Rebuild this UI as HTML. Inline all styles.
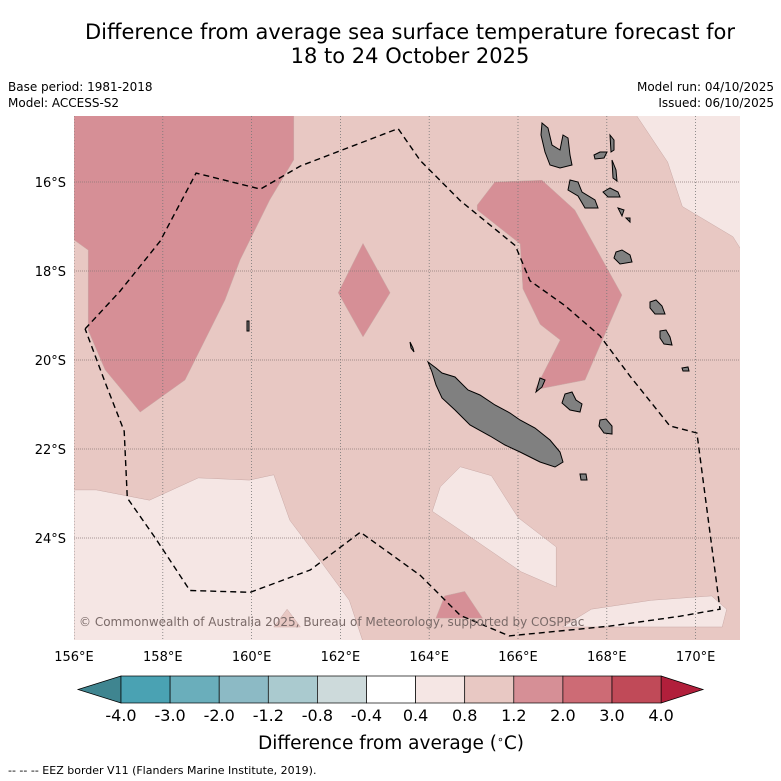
<!DOCTYPE html>
<html><head><meta charset="utf-8"><style>
body{margin:0;background:#fff;width:781px;height:781px;overflow:hidden;font-family:"Liberation Sans","DejaVu Sans",sans-serif}
svg{position:absolute;left:0;top:0}
</style></head><body>
<svg id="s" width="781" height="781" viewBox="0 0 781 781">
<text x="410" y="39" font-size="21" text-anchor="middle" font-family="DejaVu Sans">Difference from average sea surface temperature forecast for</text>
<text x="410" y="63" font-size="21" text-anchor="middle" font-family="DejaVu Sans">18 to 24 October 2025</text>
<text x="8" y="91" font-size="12" font-family="DejaVu Sans">Base period: 1981-2018</text>
<text x="8" y="107" font-size="12" font-family="DejaVu Sans">Model: ACCESS-S2</text>
<text x="774" y="91" font-size="12" text-anchor="end" font-family="DejaVu Sans">Model run: 04/10/2025</text>
<text x="774" y="107" font-size="12" text-anchor="end" font-family="DejaVu Sans">Issued: 06/10/2025</text>
<defs><clipPath id="mc"><rect x="74" y="116" width="666" height="524"/></clipPath></defs>
<g id="map" clip-path="url(#mc)">
<rect x="74" y="116" width="666" height="524" fill="#e8c8c3"/>
<g id="regions"></g>
<g id="grid"></g>
<g fill="#808080" stroke="#000" stroke-width="1">
<path d="M428,362 L436,368 L442,373 L455,377 L468,390 L480,395 L495,405 L510,413 L520,420 L535,428 L550,440 L560,452 L563,462 L555,467 L540,462 L520,452 L505,445 L490,436 L470,425 L455,410 L442,398 L436,385 L432,372 Z"/>
<path d="M542,123 L548,128 L552,145 L560,150 L563,135 L568,138 L570,155 L572,165 L560,168 L550,165 L545,152 L541,135 Z"/>
<path d="M570,180 L578,182 L582,192 L595,200 L598,208 L585,208 L578,196 L568,190 Z"/>
<path d="M594,155 L600,152 L607,152 L604,158 L595,159 Z"/>
<path d="M610,135 L614,140 L614,150 L611,152 Z M612,160 L616,170 L617,181 L613,178 Z"/>
<path d="M603,192 L610,188 L618,192 L620,197 L608,197 Z"/>
<path d="M616,252 L622,250 L630,255 L632,262 L620,264 L614,258 Z"/>
<path d="M650,302 L656,300 L662,306 L665,314 L655,314 L650,308 Z"/>
<path d="M660,331 L666,330 L670,337 L672,345 L664,344 L660,338 Z"/>
<path d="M682,368 L688,367 L689,371 L683,371 Z"/>
<path d="M565,394 L572,392 L576,400 L582,404 L580,412 L570,410 L562,403 Z"/>
<path d="M600,420 L606,419 L612,426 L612,434 L604,433 L599,426 Z"/>
<path d="M540,378 L545,380 L542,387 L536,392 L538,385 Z"/>
<path d="M580,474 L586,474 L587,480 L581,480 Z"/>
<path d="M247,321 L249,321 L249,331 L247,331 Z M410,342 L413,348 L414,352 L411,348 Z M618,208 L624,210 L622,216 Z M626,218 L630,218 L630,222 Z"/>
</g>
<path id="eez" fill="none" stroke="#000" stroke-width="1.4" stroke-dasharray="6,4"/>
<text x="79" y="626" font-size="12" fill="#7a6a68" font-family="DejaVu Sans">© Commonwealth of Australia 2025, Bureau of Meteorology, supported by COSPPac</text>
</g>
<g id="axes"></g>
<g id="cbar"></g>
<text x="391" y="749" font-size="18.5" text-anchor="middle" font-family="DejaVu Sans">Difference from average (<tspan baseline-shift="super" font-size="11">∘</tspan>C)</text>
<text x="8" y="774" font-size="11" font-family="DejaVu Sans">--  --  -- EEZ border V11 (Flanders Marine Institute, 2019).</text>
</svg>
<script>
// data
const lonTicks=[156,158,160,162,164,166,168,170];
const latTicks=[16,18,20,22,24];
const cbLevels=[-4.0,-3.0,-2.0,-1.2,-0.8,-0.4,0.4,0.8,1.2,2.0,3.0,4.0];
const cbColors=["#4aa2b3","#6aaebb","#8cbac5","#aacacf","#cddadb","#ffffff","#f5e6e4","#e8c8c3","#d68f96","#cd6b75","#c04a58"];
const regionWarm1=[[156,14.5],[160.95,14.5],[160.95,15.5],[160.41,16.4],[159.74,17.75],[159.4,18.65],[158.5,20.45],[157.49,21.17],[156.7,20.22],[156.32,19.33],[156.32,17.53],[156,17.3]];
const regionWarm2=[[162.51,17.38],[163.12,18.49],[162.51,19.48],[161.95,18.49]];
const regionWarm3=[[165.08,16.52],[165.48,16.0],[166.54,15.96],[167.28,16.63],[168.34,18.54],[167.51,20.45],[166.38,20.67],[166.95,19.55],[166.5,19.2],[166.11,18.4],[166.05,17.39],[165.08,16.63]];
const regionWarm4=[[164.15,25.8],[164.35,25.3],[164.8,25.2],[165.2,25.8]];
const regionMild1=[[156,22.92],[156.5,22.92],[157.7,23.15],[158.8,22.65],[159.95,22.7],[160.5,22.58],[160.86,23.6],[161.54,24.5],[162.2,25.4],[162.5,26.3],[156,26.3]];
const regionMild2=[[164.7,22.4],[165.4,22.6],[166.0,23.54],[166.86,24.2],[166.86,25.1],[166.07,24.76],[164.93,23.98],[164.07,23.4],[164.25,22.85]];
const regionMild3=[[168.6,14.4],[171.2,14.4],[171.2,17.8],[170.84,17.23],[169.7,16.55],[169.37,15.55]];
const regionMild4=[[167.0,26.0],[167.65,25.6],[169.0,25.4],[170.36,25.3],[170.7,25.6],[170.6,26.0]];
const regionMid1=[[160.5,26.0],[160.8,25.6],[161.1,26.0]];
const eezLine=[[156.25,19.3],[157.04,18.45],[157.94,17.33],[158.75,15.8],[160.2,16.16],[161.1,15.64],[163.3,14.8],[163.8,15.52],[164.7,16.42],[165.94,17.43],[166.27,18.22],[167.06,18.78],[167.85,19.46],[168.52,20.36],[169.42,21.48],[170.03,21.64],[170.55,25.6],[169.64,25.76],[168.07,25.98],[165.8,26.2],[164.7,25.74],[163.8,24.84],[162.45,23.87],[161.32,24.72],[159.97,25.22],[158.61,25.18],[157.83,24.0],[157.2,23.1],[157.13,21.6],[156.7,20.5],[156.25,19.3]];
const X=lon=>74+(lon-156)*44.4;
const Y=lat=>182+(lat-16)*44.5;
const NS="http://www.w3.org/2000/svg";
function mk(t,p,a){const e=document.createElementNS(NS,t);for(const k in a)e.setAttribute(k,a[k]);p.appendChild(e);return e;}
const pts=a=>a.map(p=>X(p[0]).toFixed(1)+","+Y(p[1]).toFixed(1)).join(" ");
const reg=document.getElementById("regions");
[[regionWarm1,"#d68f96","warm-region-west"],[regionWarm2,"#d68f96","warm-region-diamond"],[regionWarm3,"#d68f96","warm-region-east"],[regionWarm4,"#d68f96","warm-region-south"],[regionMild1,"#f5e6e4","mild-region-southwest"],[regionMild2,"#f5e6e4","mild-region-central"],[regionMild3,"#f5e6e4","mild-region-northeast"],[regionMild4,"#f5e6e4","mild-region-southeast"],[regionMid1,"#e8c8c3","mid-region-south"]].forEach(r=>{
 const e=mk("polygon",reg,{points:pts(r[0]),fill:r[1],stroke:"#c9a9a6","stroke-width":"0.5"});
 
 
});
const g=document.getElementById("grid");
lonTicks.forEach(l=>{const e=mk("line",g,{x1:X(l),x2:X(l),y1:116,y2:640,stroke:"#777","stroke-width":"0.8","stroke-dasharray":"1,2"});
 
 });
latTicks.forEach(l=>{const e=mk("line",g,{x1:74,x2:740,y1:Y(l),y2:Y(l),stroke:"#8a7a78","stroke-width":"0.8","stroke-dasharray":"1,1"});
 
 });
document.getElementById("eez").setAttribute("d","M"+eezLine.map(p=>X(p[0]).toFixed(1)+" "+Y(p[1]).toFixed(1)).join(" L"));
const ax=document.getElementById("axes");
lonTicks.forEach(l=>{const t=mk("text",ax,{x:X(l),y:661,"font-size":"13","text-anchor":"middle","font-family":"DejaVu Sans"});t.textContent=l+"°E";
 
 });
latTicks.forEach(l=>{const t=mk("text",ax,{x:66,y:Y(l)+5,"font-size":"13","text-anchor":"end","font-family":"DejaVu Sans"});t.textContent=l+"°S";
 
 });
const cb=document.getElementById("cbar");
const cx0=121,cw=49.1,cy=676,ch=27;
const L=mk("polygon",cb,{points:`78,${cy+ch/2} ${cx0},${cy} ${cx0},${cy+ch}`,fill:"#3f8590",stroke:"#000","stroke-width":"0.7"});


const xe=cx0+cw*(cbLevels.length-1);
const R=mk("polygon",cb,{points:`${xe},${cy} ${xe+42},${cy+ch/2} ${xe},${cy+ch}`,fill:"#b11f3b",stroke:"#000","stroke-width":"0.7"});


cbColors.forEach((c,i)=>{const r=mk("rect",cb,{x:cx0+i*cw,y:cy,width:cw,height:ch,fill:c,stroke:"#000","stroke-width":"0.7"});
 
 });
cbLevels.forEach((v,i)=>{const t=mk("text",cb,{x:cx0+i*cw,y:721,"font-size":"16","text-anchor":"middle","font-family":"DejaVu Sans"});t.textContent=v.toFixed(1);
 
 });
</script>
</body></html>
